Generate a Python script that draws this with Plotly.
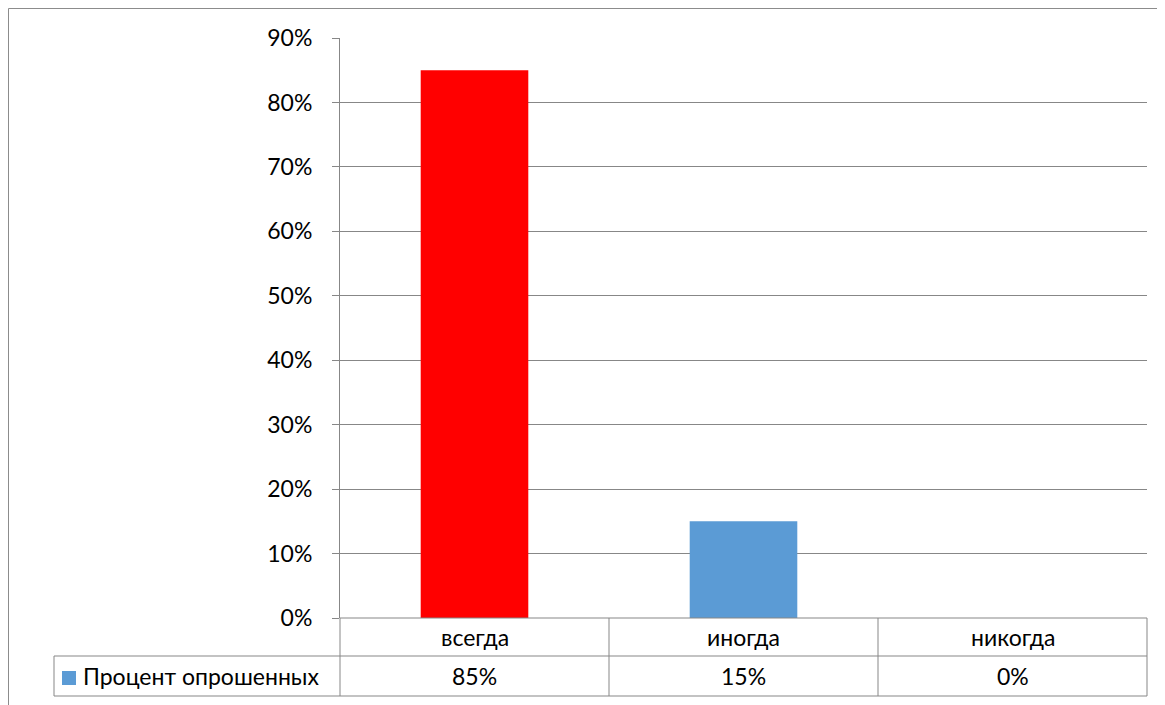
import plotly.graph_objects as go

categories = ["всегда", "иногда", "никогда"]
values = [0.85, 0.15, 0.0]
bar_colors = ["#FF0000", "#5B9BD5", "#5B9BD5"]
series_name = "Процент опрошенных"
tick_vals = [0, 0.1, 0.2, 0.3, 0.4, 0.5, 0.6, 0.7, 0.8, 0.9]

W, H = 1165, 705
OFF = 8  # page body margin
FONT = "Lato, Calibri, 'Noto Sans', sans-serif"
FS = 23
GRID = "#878787"

def px(x):
    return (x - OFF) / W

def py(y):
    return 1 - (y - OFF) / H

fig = go.Figure()
fig.add_trace(go.Bar(
    x=categories, y=values, marker=dict(color=bar_colors, line=dict(width=0)),
    width=0.4, name=series_name, showlegend=False, hoverinfo="skip"))

left, right, top, bottom = 340, 1147, 38, 618
row1, row2 = 656, 696
leg_left = 54

shapes = []
# outer border
shapes.append(dict(type="line", xref="paper", yref="paper", x0=px(8.5), x1=1.01, y0=py(8.5), y1=py(8.5),
                   line=dict(color="#8C8C8C", width=1)))
shapes.append(dict(type="line", xref="paper", yref="paper", x0=px(8.5), x1=px(8.5), y0=py(8.5), y1=-0.01,
                   line=dict(color="#8C8C8C", width=1)))
# table horizontal lines
for yy, x0 in [(bottom, left), (row1, leg_left), (row2, leg_left)]:
    shapes.append(dict(type="line", xref="paper", yref="paper", x0=px(x0), x1=px(right),
                       y0=py(yy), y1=py(yy), line=dict(color=GRID, width=1)))
# table vertical lines
n = len(categories)
for i in range(n + 1):
    xx = left + (right - left) * i / n
    shapes.append(dict(type="line", xref="paper", yref="paper", x0=px(xx), x1=px(xx),
                       y0=py(bottom), y1=py(row2), line=dict(color=GRID, width=1)))
shapes.append(dict(type="line", xref="paper", yref="paper", x0=px(leg_left), x1=px(leg_left),
                   y0=py(row1), y1=py(row2), line=dict(color=GRID, width=1)))
# legend swatch
shapes.append(dict(type="rect", xref="paper", yref="paper", x0=px(62), x1=px(76),
                   y0=py(685), y1=py(671), line=dict(width=0), fillcolor="#5B9BD5"))

annotations = []
for c, v in zip(categories, values):
    annotations.append(dict(x=c, xref="x", y=py((bottom + row1) / 2), yref="paper", text=c,
                            showarrow=False, font=dict(size=FS, color="black", family=FONT),
                            xanchor="center", yanchor="middle"))
    annotations.append(dict(x=c, xref="x", y=py((row1 + row2) / 2), yref="paper",
                            text=f"{round(v * 100)}%", showarrow=False,
                            font=dict(size=FS, color="black", family=FONT),
                            xanchor="center", yanchor="middle"))
annotations.append(dict(x=px(81), xref="paper", y=py((row1 + row2) / 2), yref="paper",
                        text=series_name, showarrow=False,
                        font=dict(size=FS, color="black", family=FONT),
                        xanchor="left", yanchor="middle"))

fig.update_layout(
    width=W, height=H, margin=dict(l=0, r=0, t=0, b=0, autoexpand=False),
    paper_bgcolor="white", plot_bgcolor="white",
    xaxis=dict(domain=[px(left), px(right)], showticklabels=False, ticks="",
               showgrid=False, zeroline=False, showline=False, fixedrange=True,
               automargin=False),
    yaxis=dict(domain=[py(bottom), py(top)], range=[0, 0.9], tickvals=tick_vals,
               tickformat=".0%", ticks="outside", ticklen=7, tickcolor=GRID,
               ticklabelstandoff=15, automargin=False,
               showgrid=True, gridcolor=GRID, gridwidth=1, zeroline=False,
               showline=True, linecolor=GRID, linewidth=1,
               tickfont=dict(size=FS, color="black", family=FONT), fixedrange=True),
    shapes=shapes, annotations=annotations, showlegend=False,
)

fig.write_html("out.html")
